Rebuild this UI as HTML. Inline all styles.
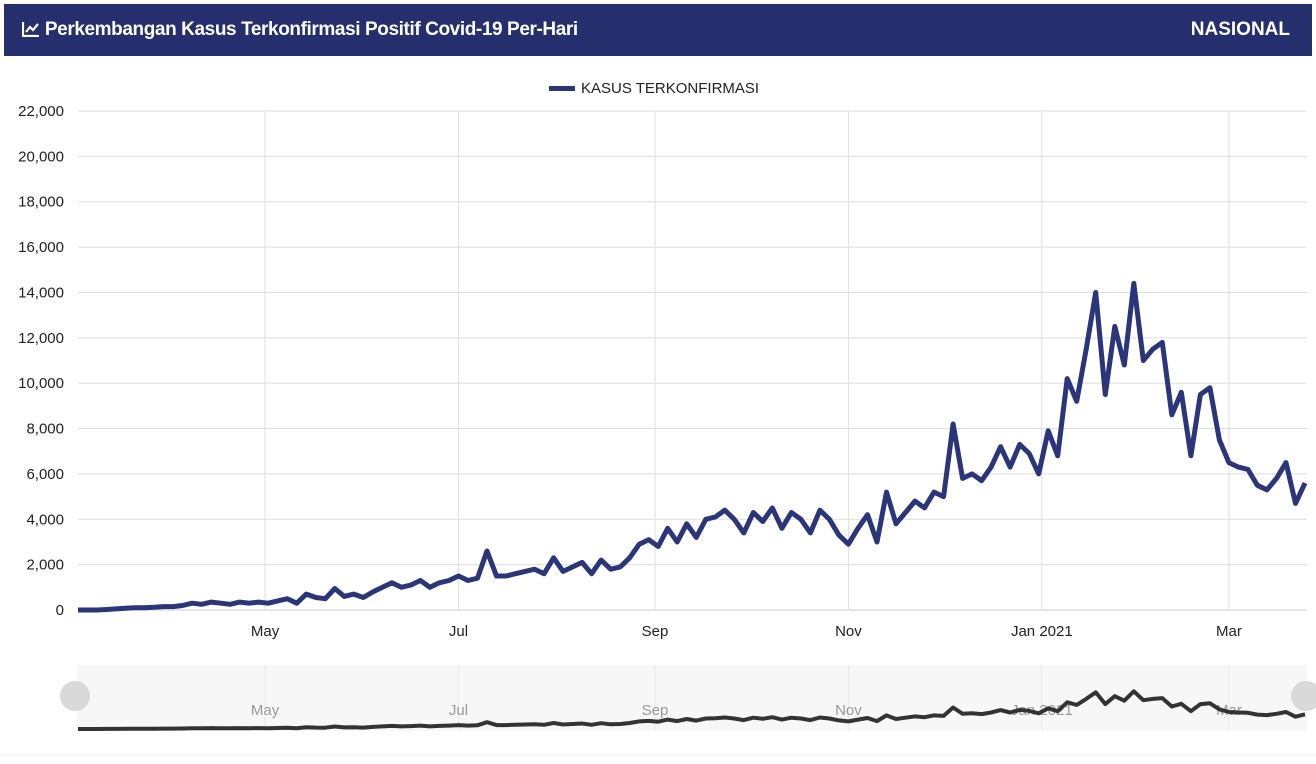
<!DOCTYPE html>
<html><head><meta charset="utf-8"><style>
body{margin:0;width:1316px;height:764px;background:#fff;font-family:"Liberation Sans",sans-serif;overflow:hidden}
#hdr{position:absolute;left:4px;top:4px;width:1308px;height:52px;background:#262f6e;color:#fff}
#hdr .t{position:absolute;left:18px;top:15px;font-size:19px;font-weight:bold;letter-spacing:-0.4px}
#hdr .n{position:absolute;right:22px;top:15px;font-size:19px;font-weight:bold}
svg{position:absolute;left:0;top:0}
</style></head><body>
<div id="hdr">
<span class="t"><svg style="position:relative;display:inline-block;vertical-align:-2px" width="18" height="16" viewBox="0 0 18 16"><path d="M1 1V15H17" stroke="#fff" stroke-width="2.2" fill="none"/><path d="M4 11L8 6L11 9L16 3" stroke="#fff" stroke-width="2.2" fill="none"/></svg> Perkembangan Kasus Terkonfirmasi Positif Covid-19 Per-Hari</span>
<span class="n">NASIONAL</span>
</div>
<svg id="c" width="1316" height="764"></svg>
<script>
const startDate = [2020, 2, 3];
const stepDays = 3;
const values = [0,0,0,20,50,80,100,100,120,150,150,200,300,250,350,300,250,350,300,350,300,400,500,300,700,550,500,950,600,700,550,800,1000,1200,1000,1100,1300,1000,1200,1300,1500,1300,1400,2600,1500,1500,1600,1700,1800,1600,2300,1700,1900,2100,1600,2200,1800,1900,2300,2900,3100,2800,3600,3000,3800,3200,4000,4100,4400,4000,3400,4300,3900,4500,3600,4300,4000,3400,4400,4000,3300,2900,3600,4200,3000,5200,3800,4300,4800,4500,5200,5000,8200,5800,6000,5700,6300,7200,6300,7300,6900,6000,7900,6800,10200,9200,11500,14000,9500,12500,10800,14400,11000,11500,11800,8600,9600,6800,9500,9800,7500,6500,6300,6200,5500,5300,5800,6500,4700,5600];
const yTicks = [0,2000,4000,6000,8000,10000,12000,14000,16000,18000,20000,22000];
const xTickLabels = ["May","Jul","Sep","Nov","Jan 2021","Mar"];
const xTickDates = [[2020,4,1],[2020,6,1],[2020,8,1],[2020,10,1],[2021,0,1],[2021,2,1]];

const NS="http://www.w3.org/2000/svg";
const svg=document.getElementById('c');
const X0=78,X1=1307,Y0=610,Y1=111;
const t0=Date.UTC(...startDate), DAY=864e5;
const tEnd=t0+(values.length-1)*stepDays*DAY;
function xs(t){return X0+(t-t0)/(tEnd-t0)*(1305-X0);}
function ys(v){return Y0-v/22000*(Y0-Y1);}
function ny(v){return 729-v/14500*38;}
function mk(tag,at){const e=document.createElementNS(NS,tag);for(const k in at)e.setAttribute(k,at[k]);svg.appendChild(e);return e;}

yTicks.forEach(v=>{
  const l=mk('line',{x1:X0,x2:X1,y1:ys(v),y2:ys(v),stroke:v?'#ddd':'#ccc','stroke-width':1});
  
  
  const t=mk('text',{x:64,y:ys(v)+5,'text-anchor':'end','font-size':15,fill:'#222'});
  t.textContent=v.toLocaleString('en-US');
  
  
});
const nb=mk('rect',{x:77,y:665,width:1230,height:66,fill:'#f7f7f7'});


xTickDates.forEach((d,i)=>{
  const x=xs(Date.UTC(...d));
  const g=mk('line',{x1:x,x2:x,y1:Y1,y2:Y0,stroke:'#e0e0e0'});
  
  
  const t=mk('text',{x:x,y:636,'text-anchor':'middle','font-size':15,fill:'#222'});
  t.textContent=xTickLabels[i];
  
  
  const g2=mk('line',{x1:x,x2:x,y1:665,y2:731,stroke:'#e8e8e8'});
  
  
  const t2=mk('text',{x:x,y:715,'text-anchor':'middle','font-size':15,fill:'#999'});
  t2.textContent=xTickLabels[i];
  
  
});
let d='',nd='';
values.forEach((v,i)=>{const x=xs(t0+i*stepDays*DAY);d+=(i?'L':'M')+x.toFixed(1)+' '+ys(v).toFixed(1);nd+=(i?'L':'M')+x.toFixed(1)+' '+ny(v).toFixed(1);});
const p=mk('path',{d:d,fill:'none',stroke:'#2b357a','stroke-width':5,'stroke-linejoin':'round'});


const np=mk('path',{d:nd,fill:'none',stroke:'#333','stroke-width':4,'stroke-linejoin':'round'});


[75,1306].forEach((cx,i)=>{
  const c=mk('circle',{cx:cx,cy:696,r:15,fill:'#d9d9d9'});
  
  
});
const bl=mk('line',{x1:0,x2:1316,y1:755,y2:755,stroke:'#eee'});


const lg=mk('rect',{x:549,y:86,width:26,height:5,fill:'#2b357a'});


const lt=mk('text',{x:581,y:93,'font-size':15,fill:'#222'});
lt.textContent='KASUS TERKONFIRMASI';


</script>
</body></html>
